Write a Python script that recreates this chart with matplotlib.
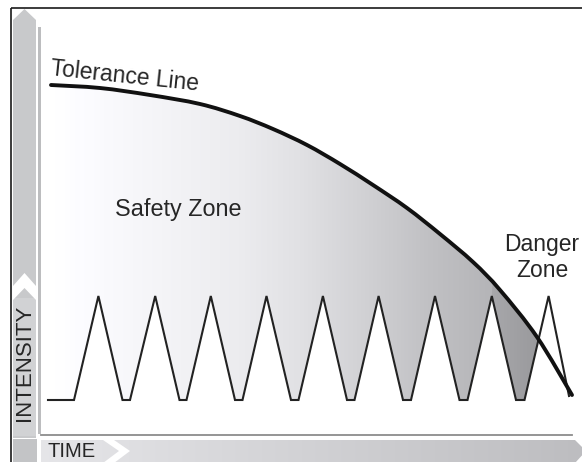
import numpy as np
import matplotlib
matplotlib.use("Agg")
import matplotlib.pyplot as plt
from matplotlib.path import Path
from matplotlib.patches import Polygon, PathPatch

# ---------------- data (chart units: time / intensity, origin at the axes corner) -------------
# training-load wave (time, intensity)
wave_t = [8, 34, 58.4, 82.5, 90, 115.2, 139.5, 146.5, 170.8, 195, 202.5, 226.5, 251, 258.5,
          282.9, 307, 314.5, 338.6, 363, 371, 395, 419.5, 427.5, 451.8, 476, 484.5, 508.6, 529]
wave_i = [34, 34, 138, 34, 34, 138, 34, 34, 138, 34, 34, 138, 34, 34,
          138, 34, 34, 138, 34, 34, 138, 34, 34, 138, 34, 34, 138, 38]

# tolerance line (time, intensity)
tol_t = [11, 60, 110, 160, 200, 233, 267, 300, 333, 367, 400, 433, 460, 497, 532]
tol_i = [349, 346, 339, 330, 318, 305, 289, 270, 249, 226, 200, 172, 144, 97, 39]

# shading of the zone under the tolerance line (time, grey level)
shade_t = [15, 200, 260, 340, 390, 450, 520]
shade_v = [1.0, 0.925, 0.882, 0.805, 0.755, 0.71, 0.69]
dark_t = [450, 500, 540]
dark_v = [0.66, 0.60, 0.55]

labels = {"tol": "Tolerance Line", "safe": "Safety Zone", "danger": "Danger\nZone",
          "y": "INTENSITY", "x": "TIME"}

# ---------------- figure ---------------------------------------------------------------------
W, H = 582, 462
X0, Y0, YT = 40, 434, 8
fig = plt.figure(figsize=(W / 100, H / 100), dpi=100)
bg = fig.add_axes([0, 0, 1, 1])
bg.set_xlim(0, W)
bg.set_ylim(H, 0)
bg.axis("off")

ax = fig.add_axes([X0 / W, (H - Y0) / H, (W - X0) / W, (Y0 - YT) / H])
ax.axis("off")
ax.patch.set_visible(False)
XW, YH = W - X0, Y0 - YT

top = fig.add_axes([0, 0, 1, 1])
top.set_xlim(0, W)
top.set_ylim(H, 0)
top.axis("off")
top.patch.set_visible(False)

FONT = ["Liberation Sans", "DejaVu Sans"]
TXT = "#262626"


def grey_img(v):
    v = np.asarray(v, float)
    return np.clip(np.stack([v, v, v + 0.012], axis=-1)[None, :, :], 0, 1)


# ---------------- frame decorations ----------------------------------------------------------
bg.plot([10.5, 10.5], [7.5, H], color="#1a1a1a", lw=1.2, solid_capstyle="butt")
bg.plot([10.5, W], [7.5, 7.5], color="#1a1a1a", lw=1.2, solid_capstyle="butt")

# vertical (intensity) band
bg.add_patch(Polygon([(13, 438), (13, 20), (24.5, 9), (36, 20), (36, 438)], closed=True,
                     facecolor="#c8c9cb", edgecolor="none"))
bg.add_patch(Polygon([(13, 298), (36, 298), (36, 436), (13, 436)], closed=True,
                     facecolor="#d1d2d4", edgecolor="none"))
bg.add_patch(Polygon([(13, 286), (24.5, 273), (36, 286), (36, 300), (24.5, 288), (13, 300)],
                     closed=True, facecolor="white", edgecolor="none"))
bg.add_patch(Polygon([(13, 439), (37, 439), (37, H), (13, H)], closed=True,
                     facecolor="#c3c4c6", edgecolor="none"))
bg.add_patch(Polygon([(37.5, 27), (41, 27), (41, 434), (37.5, 434)], closed=True,
                     facecolor="#bcbdbf", edgecolor="none"))

# horizontal (time) band with gradient
band = Polygon([(41, 440), (575, 440), (586, 451), (575, 463), (41, 463)], closed=True,
               facecolor="none", edgecolor="none")
bg.add_patch(band)
im_b = bg.imshow(grey_img(np.linspace(0.90, 0.74, 256)), extent=[41, 586, 463, 440],
                 aspect="auto", interpolation="bilinear", zorder=1)
im_b.set_clip_path(band)
bg.add_patch(Polygon([(103, 440), (114, 440), (130, 451), (114, 463), (103, 463), (119, 451)],
                     closed=True, facecolor="white", edgecolor="none", zorder=2))
bg.plot([41, 572], [434.5, 434.5], color="#8c8c8c", lw=1.3, zorder=2)
bg.set_xlim(0, W)
bg.set_ylim(H, 0)

# ---------------- tolerance curve as a smooth path through the read points ------------------
P = np.column_stack([tol_t, tol_i]).astype(float)
n = len(P)
verts, codes = [P[0]], [Path.MOVETO]
dense = [P[0]]
s = np.linspace(0, 1, 25)[1:]
for k in range(n - 1):
    p0 = P[k - 1] if k > 0 else P[k]
    p1, p2 = P[k], P[k + 1]
    p3 = P[k + 2] if k + 2 < n else P[k + 1]
    c1 = p1 + (p2 - p0) / 6.0
    c2 = p2 - (p3 - p1) / 6.0
    verts += [c1, c2, p2]
    codes += [Path.CURVE4] * 3
    for u in s:
        b = ((1 - u) ** 3) * p1 + 3 * ((1 - u) ** 2) * u * c1 + 3 * (1 - u) * u * u * c2 + u ** 3 * p2
        dense.append(b)
dense = np.array(dense)
tol_path = Path(np.array(verts), codes)

# intersection of the curve with the wave
wt = np.array(wave_t, float)
wi = np.array(wave_i, float)
d = dense[:, 1] - np.interp(dense[:, 0], wt, wi)
j = np.where((d < 0) & (dense[:, 0] > 100))[0][0]
f = d[j - 1] / (d[j - 1] - d[j])
xint = dense[j - 1] + f * (dense[j] - dense[j - 1])

# main shaded zone
upper = np.vstack([dense[:j], xint])
lower = [(t, v) for t, v in zip(wave_t, wave_i) if t < xint[0]][::-1]
zone = Polygon(np.vstack([upper, lower]), closed=True, facecolor="none", edgecolor="none",
               transform=ax.transData)
ax.add_patch(zone)
tt = np.linspace(0, XW, 600)
im = ax.imshow(grey_img(np.interp(tt, shade_t, shade_v)), extent=[0, XW, 0, YH], aspect="auto",
               interpolation="bilinear", zorder=1)
im.set_clip_path(zone)

# darker part: last valley before the crossing
peaks = [t for t, v in zip(wave_t, wave_i) if v == max(wave_i) and t < xint[0]]
tp = peaks[-1]
up2 = dense[(dense[:, 0] >= tp) & (np.arange(len(dense)) < j)]
low2 = [(t, v) for t, v in zip(wave_t, wave_i) if tp <= t < xint[0]][::-1]
dz = Polygon(np.vstack([up2, xint, low2]), closed=True, facecolor="none", edgecolor="none",
             transform=ax.transData)
ax.add_patch(dz)
im2 = ax.imshow(grey_img(np.interp(tt, dark_t, dark_v)), extent=[0, XW, 0, YH], aspect="auto",
                interpolation="bilinear", zorder=2)
im2.set_clip_path(dz)

ax.plot(wave_t, wave_i, color="#222222", lw=1.5, solid_joinstyle="miter", zorder=3)
ax.add_patch(PathPatch(tol_path, facecolor="none", edgecolor="#111111", lw=2.8,
                       capstyle="round", zorder=4))
ax.set_xlim(0, XW)
ax.set_ylim(0, YH)

# ---------------- labels ---------------------------------------------------------------------
top.text(24.5, 363, labels["y"], rotation=90, ha="center", va="center", fontsize=16,
         family=FONT, color=TXT)
top.text(47, 457, labels["x"], ha="left", va="baseline", fontsize=14.5, family=FONT, color=TXT)
top.text(50, 75, labels["tol"], rotation=-6, rotation_mode="anchor", ha="left", va="baseline",
         fontsize=16.5, family=FONT, color=TXT)
top.text(115, 216, labels["safe"], ha="left", va="baseline", fontsize=16.8, family=FONT, color=TXT)
top.text(542, 277, labels["danger"], ha="center", va="baseline", fontsize=16.5, family=FONT,
         color=TXT, linespacing=1.15, multialignment="center")

fig.savefig("out.png", dpi=100)
